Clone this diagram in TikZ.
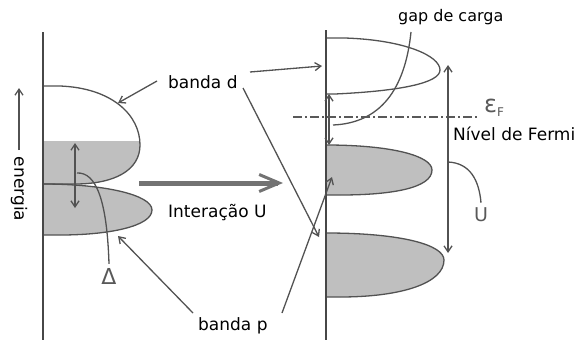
\documentclass[tikz,border=0pt]{standalone}
\usepackage{fontspec}
\setmainfont{DejaVu Sans}
\usetikzlibrary{arrows.meta}
\begin{document}
\begin{tikzpicture}[x=1pt,y=-1pt,
  ln/.style={draw=black!68, line width=1.3pt},
  axisln/.style={draw=black!72, line width=1.4pt},
  ar/.style={ln, -{Straight Barb[length=6pt,width=8pt]}},
  dar/.style={ln, {Straight Barb[length=6pt,width=8pt]}-{Straight Barb[length=6pt,width=8pt]}},
  band/.style={fill=black!25},
  lbl/.style={font=\fontsize{17}{20}\selectfont, inner sep=0pt},
  glbl/.style={lbl, text=black!65},
]
\useasboundingbox (0,0) rectangle (577,340);

% axes
\coordinate (la1) at (43,32);  \coordinate (la2) at (43,340);
\coordinate (ra1) at (326,30); \coordinate (ra2) at (326,340);

% ---- left panel bands
\begin{scope}
  \clip (43,141) rectangle (170,190);
  \fill[band] (43,86) -- (60,86) .. controls (112,88) and (140,115) .. (140,145)
     .. controls (140,170) and (115,184) .. (75,184) -- (43,184) -- cycle;
\end{scope}
\fill[band] (43,184) .. controls (105,184) and (152,195) .. (152,210)
   .. controls (152,226) and (110,235) .. (60,235) -- (43,235) -- cycle;
\draw[ln] (43,184) .. controls (105,184) and (152,195) .. (152,210)
   .. controls (152,226) and (110,235) .. (60,235) -- (43,235);
\draw[ln] (43,86) -- (60,86) .. controls (112,88) and (140,115) .. (140,145)
     .. controls (140,170) and (115,184) .. (75,184) -- (43,184);

% ---- right panel bands
\draw[ln] (326,38) -- (345,38) .. controls (405,40) and (440,56) .. (440,70)
   .. controls (440,83) and (400,91) .. (335,94) -- (326,94);
\fill[band] (326,145) .. controls (392,145) and (432,156) .. (432,170)
   .. controls (432,188) and (392,195) .. (340,195) -- (326,195) -- cycle;
\draw[ln] (326,145) .. controls (392,145) and (432,156) .. (432,170)
   .. controls (432,188) and (392,195) .. (340,195) -- (326,195);
\fill[band] (326,233) .. controls (402,233) and (444,245) .. (444,260)
   .. controls (444,283) and (402,297) .. (340,297) -- (326,297) -- cycle;
\draw[ln] (326,233) .. controls (402,233) and (444,245) .. (444,260)
   .. controls (444,283) and (402,297) .. (340,297) -- (326,297);

\draw[axisln] (la1) -- (la2);
\draw[axisln] (ra1) -- (ra2);

% ---- energy axis label
\coordinate (e1) at (19,150); \coordinate (e2) at (19,88);
\draw[ar] (e1) -- (e2);
\node[lbl, rotate=-90] (energia) at (19,189) {energia};

% ---- labels
\node[lbl, anchor=base west] (bd) at (168,88) {banda d};
\node[lbl, anchor=base west] (bp) at (198,330) {banda p};
\node[lbl, anchor=base west] (iu) at (168,217) {Interação U};
\node[lbl, anchor=base west, font=\fontsize{16}{18}\selectfont] (gap) at (398,21) {gap de carga};
\node[lbl, anchor=base west] (nf) at (453,140) {Nível de Fermi};
\node[glbl, anchor=base west] (ef) at (484,112) {{\fontsize{24}{24}\selectfont ε}{\fontsize{12}{12}\selectfont\raisebox{-4pt}{F}}};
\node[glbl, font=\fontsize{19}{20}\selectfont] (ulbl) at (481,215) {U};
\node[glbl, font=\fontsize{22}{22}\selectfont] (delta) at (109,276) {Δ};

% ---- arrows from labels
\coordinate (bdL) at (157,81);   \coordinate (dL) at (118,103);
\coordinate (bdR) at (250,72);   \coordinate (dR) at (322,66);
\coordinate (bdD) at (243,88);   \coordinate (pR) at (319,237);
\coordinate (bpL) at (193,313);  \coordinate (pL) at (118,236);
\coordinate (bpU) at (282,313);  \coordinate (lhR) at (332,177);
\draw[ar] (bdL) -- (dL);
\draw[ar] (bdR) -- (dR);
\draw[ar] (bdD) -- (pR);
\draw[ar] (bpL) -- (pL);
\draw[ar] (bpU) -- (lhR);

% ---- big interaction arrow
\coordinate (b1) at (139,183); \coordinate (b2) at (283,183);
\draw[draw=black!55, line width=5pt, -{Straight Barb[length=20pt,width=17pt,line width=3pt]}] (b1) -- (b2);

% ---- Delta
\coordinate (d1) at (75,143); \coordinate (d2) at (75,208);
\draw[dar] (d1) -- (d2);
\coordinate (dc) at (77,173);
\draw[ln] (dc) .. controls (96,172) and (107,200) .. ([yshift=4pt]delta.north);

% ---- gap
\coordinate (g1) at (329,94); \coordinate (g2) at (329,145);
\draw[dar] (g1) -- (g2);
\coordinate (gc) at (333,125);
\draw[ln] (411,32) .. controls (405,90) and (380,123) .. (gc);

% ---- Fermi level
\coordinate (f1) at (293,117); \coordinate (f2) at (478,117);
\draw[draw=black!65, line width=1.1pt, dash pattern=on 9pt off 3pt on 2pt off 3pt] (f1) -- (f2);

% ---- U
\coordinate (u1) at (448,65); \coordinate (u2) at (448,253);
\draw[dar] (u1) -- (u2);
\coordinate (uc) at (448,162);
\draw[ln] (uc) .. controls (470,163) and (479,180) .. ([yshift=5pt]ulbl.north);
\end{tikzpicture}
\end{document}
